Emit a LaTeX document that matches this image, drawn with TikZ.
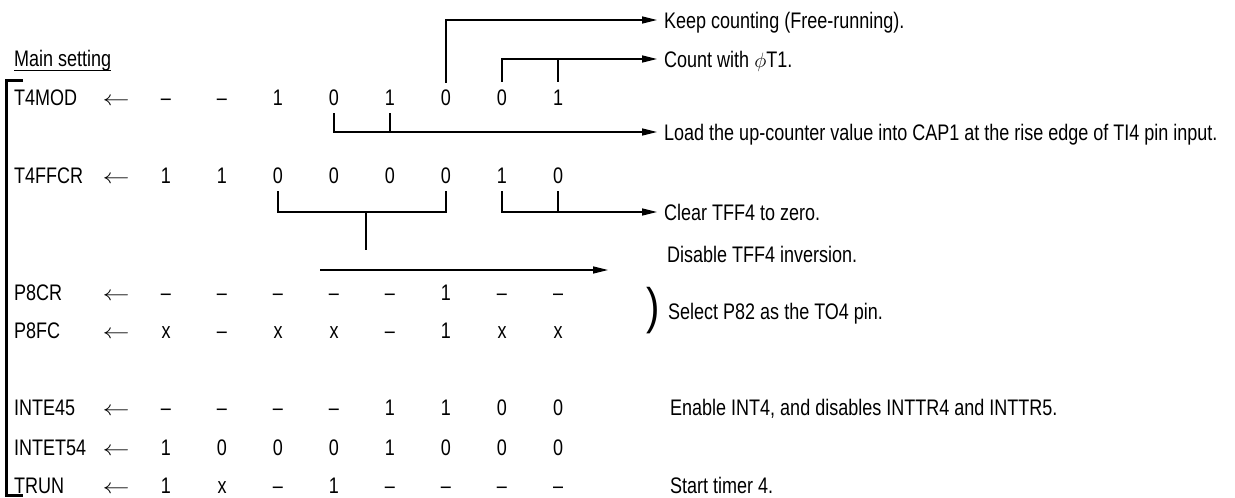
\documentclass[tikz,border=0pt]{standalone}
\usepackage{fontspec}
\setmainfont{Liberation Sans}[FakeStretch=0.80]
\usetikzlibrary{arrows.meta,calc}
\begin{document}
\begin{tikzpicture}[x=1pt,y=-1pt,
  every node/.style={font=\fontsize{22.5}{24}\selectfont},
  cell/.style={inner sep=0pt,text height=16pt,text depth=0pt,anchor=base},
  lbl/.style={inner sep=0pt,text height=16pt,text depth=0pt,anchor=base west},
  ln/.style={line width=1.3pt},
  arr/.style={ln,-{Triangle[length=15pt,width=7pt]}}]
\useasboundingbox (0,0) rectangle (1235,498);

% title
\node[lbl] (main) at (14,66) {Main setting};
\draw[line width=1pt] ([yshift=-4pt]main.base west) -- ([yshift=-4pt]main.base east);

% left bracket
\coordinate (btop) at (23,80);
\coordinate (bbot) at (23,495);
\draw[line width=3pt] (btop) -- (6,80) -- (6,495) -- (bbot);

% register rows
\foreach \r/\name/\yy/\vals in {
  1/T4MOD/105/{–,–,1,0,1,0,0,1},
  2/T4FFCR/183/{1,1,0,0,0,0,1,0},
  3/P8CR/300/{–,–,–,–,–,1,–,–},
  4/P8FC/338/{x,–,x,x,–,1,x,x},
  5/INTE45/415/{–,–,–,–,1,1,0,0},
  6/INTET54/455/{1,0,0,0,1,0,0,0},
  7/TRUN/493/{1,x,–,1,–,–,–,–}}{
  \node[lbl] (n\r) at (14,\yy) {\name};
  \node[cell] (a\r) at (116,\yy) {\scalebox{1.3}[1]{$\leftarrow$}};
  \foreach \v [count=\c] in \vals {
    \pgfmathsetmacro{\xx}{166+56*(\c-1)}
    \node[cell] (r\r c\c) at (\xx,\yy) {\v};
  }
}

% comment texts
\node[lbl] (keep)   at (664,28)  {Keep counting (Free-running).};
\node[lbl] (count)  at (664,67)  {Count with $\phi$T1.};
\node[lbl] (load)   at (664,140) {Load the up-counter value into CAP1 at the rise edge of TI4 pin input.};
\node[lbl] (clear)  at (664,220) {Clear TFF4 to zero.};
\node[lbl] (disab)  at (667,262) {Disable TFF4 inversion.};
\node[lbl] (select) at (668,319) {Select P82 as the TO4 pin.};
\node[inner sep=0pt,font=\fontsize{50}{50}\selectfont] (par) at (653,311) {)};
\node[lbl] (enable) at (670,415) {Enable INT4, and disables INTTR4 and INTTR5.};
\node[lbl] (start)  at (670,493) {Start timer 4.};

% connectors T4MOD
\draw[arr] ([yshift=6pt]r1c6.north) |- ([xshift=-7pt]keep.west);
\draw[arr] ([yshift=7pt]r1c7.north) |- ([xshift=-7pt]count.west);
\draw[ln]  ([yshift=7pt]r1c8.north) -- (r1c8.north |- count.west);
\draw[arr] ([yshift=-8pt]r1c4.south) |- ([xshift=-7pt]load.west);
\draw[ln]  ([yshift=-8pt]r1c5.south) -- (r1c5.south |- load.west);

% connectors T4FFCR
\draw[ln] ([yshift=-8pt]r2c3.south) |- (r2c6.south |- clear.west) -- ([yshift=-8pt]r2c6.south);
\coordinate (stem) at (366,212);
\coordinate (stemend) at (366,250);
\draw[ln] (stem) -- (stemend);
\coordinate (hs) at (320,270);
\coordinate (he) at (608,270);
\draw[arr] (hs) -- (he);
\draw[arr] ([yshift=-8pt]r2c7.south) |- ([xshift=-7pt]clear.west);
\draw[ln]  ([yshift=-8pt]r2c8.south) -- (r2c8.south |- clear.west);
\end{tikzpicture}
\end{document}
